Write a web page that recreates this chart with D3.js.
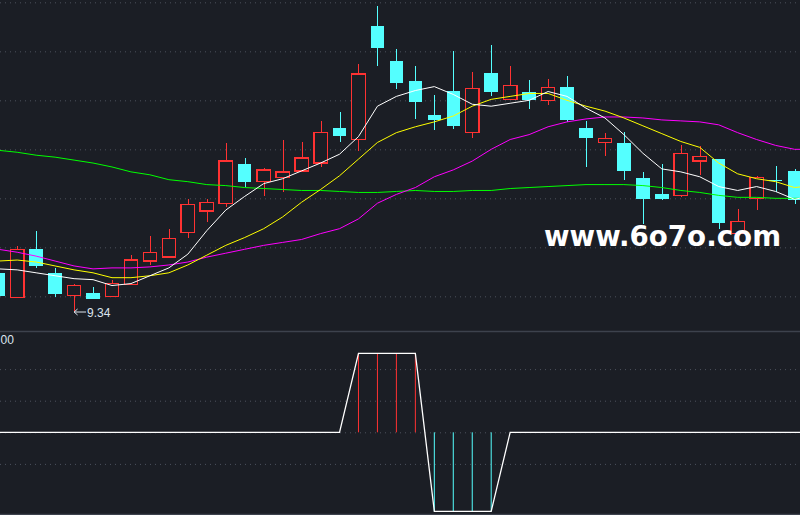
<!DOCTYPE html>
<html lang="zh-CN">
  <head>
    <meta charset="UTF-8" />
    <meta name="viewport" content="width=device-width, initial-scale=1.0" />
    <title>K线图</title>
    <script src="https://d3js.org/d3.v7.min.js"></script>
    <style>
      body {
        margin: 0;
        background-color: #1b1e25;
        font-family: "Liberation Sans", Arial, sans-serif;
      }

      svg {
        display: block;
      }

      .grid line {
        stroke: #4d525d;
        stroke-dasharray: 1, 4;
      }

      .grid path {
        display: none;
      }

      .ma {
        fill: none;
        stroke-width: 1;
      }
    </style>
  </head>
  <body>
    <div id="chart"></div>

    <script>
      // Daily candles (price in yuan)
      const opens = [
        9.74, 9.49, 9.98, 9.74, 9.51, 9.53, 9.5, 9.62, 9.86, 9.9, 10.15, 10.37,
        10.45, 10.85, 10.67, 10.71, 10.78, 10.86, 11.22, 11.1, 12.26, 11.9, 11.7,
        11.35, 11.6, 11.17, 11.78, 11.51, 11.58, 11.5, 11.64, 11.22, 11.07,
        11.06, 10.71, 10.54, 10.53, 10.88, 10.9, 10.14, 10.5, 10.69, 10.78,
      ];
      const highs = [
        9.74, 10.01, 10.17, 9.79, 9.63, 9.6, 9.67, 9.92, 10.12, 10.19, 10.49,
        10.49, 11.06, 10.91, 10.81, 11.1, 11.07, 11.29, 11.38, 11.87, 12.46,
        12.02, 11.85, 11.55, 12.0, 11.79, 12.06, 11.85, 11.71, 11.72, 11.75,
        11.29, 11.17, 11.18, 10.77, 10.85, 11.04, 11.03, 10.9, 10.39, 10.73,
        10.83, 10.8,
      ];
      const lows = [
        9.5, 9.49, 9.79, 9.49, 9.34, 9.47, 9.5, 9.62, 9.82, 9.89, 10.1, 10.26,
        10.41, 10.62, 10.52, 10.56, 10.77, 10.82, 11.07, 10.98, 11.85, 11.62,
        11.31, 11.2, 11.21, 11.12, 11.54, 11.51, 11.41, 11.45, 11.28, 10.82,
        10.93, 10.69, 10.24, 10.48, 10.51, 10.74, 10.19, 10.14, 10.38, 10.56,
        10.44,
      ];
      const closes = [
        9.5, 9.98, 9.81, 9.52, 9.61, 9.47, 9.63, 9.87, 9.95, 10.09, 10.44, 10.46,
        10.88, 10.67, 10.79, 10.77, 10.91, 11.17, 11.14, 11.77, 12.03, 11.68,
        11.48, 11.3, 11.24, 11.62, 11.58, 11.65, 11.5, 11.63, 11.3, 11.12, 11.11,
        10.78, 10.49, 10.49, 10.96, 10.93, 10.25, 10.26, 10.71, 10.69, 10.48,
      ];

      // Moving averages (last value is the next day, just past the right edge)
      const ma5 = [
        9.78, 9.77, 9.74, 9.71, 9.68, 9.67, 9.61, 9.63, 9.71, 9.79, 9.93, 10.17,
        10.38, 10.52, 10.65, 10.7, 10.78, 10.86, 10.95, 11.13, 11.44, 11.54,
        11.6, 11.64, 11.56, 11.46, 11.44, 11.47, 11.5, 11.59, 11.54, 11.42,
        11.32, 11.15, 10.96, 10.8, 10.77, 10.72, 10.62, 10.58, 10.62, 10.57,
        10.49, 10.53,
      ];
      const ma10 = [
        9.86, 9.87, 9.85, 9.81, 9.77, 9.74, 9.69, 9.69, 9.71, 9.74, 9.82, 9.92,
        10.02, 10.1, 10.19, 10.31, 10.46, 10.59, 10.73, 10.9, 11.07, 11.17,
        11.23, 11.28, 11.34, 11.44, 11.51, 11.54, 11.57, 11.57, 11.5, 11.44,
        11.39, 11.32, 11.24, 11.16, 11.08, 11.02, 10.86, 10.75, 10.7, 10.67,
        10.61, 10.63,
      ];
      const ma30 = [
        9.98, 9.95, 9.91, 9.86, 9.81, 9.78, 9.79, 9.79, 9.8, 9.82, 9.85, 9.9,
        9.94, 9.98, 10.02, 10.05, 10.08, 10.14, 10.19, 10.29, 10.45, 10.54,
        10.61, 10.72, 10.79, 10.88, 11.0, 11.1, 11.15, 11.23, 11.28, 11.31,
        11.33, 11.33, 11.32, 11.3, 11.29, 11.28, 11.25, 11.17, 11.1, 11.04, 11.0,
        11.0,
      ];
      const ma120 = [
        10.99, 10.97, 10.94, 10.92, 10.89, 10.86, 10.82, 10.77, 10.74, 10.69,
        10.67, 10.64, 10.63, 10.61, 10.6, 10.59, 10.58, 10.58, 10.57, 10.56,
        10.56, 10.57, 10.58, 10.57, 10.57, 10.58, 10.58, 10.6, 10.61, 10.62,
        10.63, 10.64, 10.64, 10.64, 10.63, 10.61, 10.58, 10.56, 10.53, 10.51,
        10.51, 10.5, 10.5, 10.5,
      ];

      // Lower panel signal (+100 buy zone, -100 sell zone)
      const signal = [
        0, 0, 0, 0, 0, 0, 0, 0, 0, 0, 0, 0, 0, 0, 0, 0, 0, 0, 0, 100, 100, 100,
        100, -100, -100, -100, -100, 0, 0, 0, 0, 0, 0, 0, 0, 0, 0, 0, 0, 0, 0, 0,
        0, 0,
      ];

      // Gridline levels and texts
      const priceTicks = [9.5, 10, 10.5, 11, 11.5, 12, 12.5];
      const signalTicks = [80, 40, 0, -40];
      const signalLabel = "00";
      const watermark = "www.6o7o.com";

      const width = 800,
        height = 515;
      const upColor = "#ff3232",
        downColor = "#54ffff",
        bgColor = "#1b1e25";

      const svg = d3
        .select("#chart")
        .append("svg")
        .attr("width", width)
        .attr("height", height);

      const days = d3.range(opens.length);
      const lineDays = d3.range(ma5.length);

      // X: one band per trading day, the first one half cut off on the left
      const x = d3
        .scaleBand()
        .domain(lineDays)
        .range([-11.24, 823.0])
        .paddingInner(0.24)
        .paddingOuter(0.12);
      const cx = (i) => x(i) + x.bandwidth() / 2;

      // Main price panel
      const y = d3.scaleLinear().domain([9.34, 12.5]).range([312, 2.32]);

      // Indicator panel
      const ys = d3.scaleLinear().domain([-100, 100]).range([511.3, 353.3]);

      // Gridlines
      svg
        .append("g")
        .attr("class", "grid")
        .call(d3.axisLeft(y).tickValues(priceTicks).tickSize(-width).tickFormat(""));

      svg
        .append("g")
        .attr("class", "grid")
        .call(d3.axisLeft(ys).tickValues(signalTicks).tickSize(-width).tickFormat(""));

      // Panel borders
      svg
        .append("line")
        .attr("x1", 0)
        .attr("x2", width)
        .attr("y1", 331.5)
        .attr("y2", 331.5)
        .attr("stroke", "#3d424d")
        .attr("stroke-width", 1.5);

      svg
        .append("line")
        .attr("x1", 0)
        .attr("x2", width)
        .attr("y1", 514.5)
        .attr("y2", 514.5)
        .attr("stroke", "#3d424d")
        .attr("stroke-width", 1.5);

      // Candles
      const candle = svg
        .append("g")
        .selectAll("g")
        .data(days)
        .join("g")
        .attr("shape-rendering", "crispEdges");

      candle
        .append("line")
        .attr("x1", (i) => Math.round(cx(i)) + 0.5)
        .attr("x2", (i) => Math.round(cx(i)) + 0.5)
        .attr("y1", (i) => y(highs[i]))
        .attr("y2", (i) => y(lows[i]))
        .attr("stroke", (i) => (closes[i] > opens[i] ? upColor : downColor));

      candle
        .append("rect")
        .attr("x", (i) => x(i) + 0.5)
        .attr("width", x.bandwidth() - 1)
        .attr("y", (i) => y(Math.max(opens[i], closes[i])))
        .attr("height", (i) =>
          Math.max(1, Math.abs(y(opens[i]) - y(closes[i])))
        )
        .attr("fill", (i) => (closes[i] > opens[i] ? bgColor : downColor))
        .attr("stroke", (i) => (closes[i] > opens[i] ? upColor : downColor))
        .attr("stroke-width", (i) => (closes[i] > opens[i] ? 1.3 : 0));

      // Moving average lines
      const maLine = (arr) =>
        d3
          .line()
          .x((i) => cx(i))
          .y((i) => y(arr[i]));

      [
        [ma120, "#00ff00"],
        [ma30, "#ff00ff"],
        [ma10, "#ffff00"],
        [ma5, "#ffffff"],
      ].forEach(([arr, color]) => {
        svg
          .append("path")
          .datum(lineDays)
          .attr("class", "ma")
          .attr("stroke", color)
          .attr("d", maLine(arr));
      });

      // Lowest price marker
      const lowIdx = d3.minIndex(lows);
      const lx = cx(lowIdx),
        ly = y(lows[lowIdx]);
      const marker = svg.append("g").attr("stroke", "#dde4ee").attr("fill", "none");
      marker
        .append("line")
        .attr("x1", lx)
        .attr("x2", lx + 12)
        .attr("y1", ly)
        .attr("y2", ly);
      marker
        .append("path")
        .attr("d", `M${lx + 3.5},${ly - 3}L${lx},${ly}L${lx + 3.5},${ly + 3}`);
      svg
        .append("text")
        .attr("x", lx + 13)
        .attr("y", ly + 4.5)
        .attr("fill", "#dde4ee")
        .style("font-size", "12px")
        .text(lows[lowIdx].toFixed(2));

      // Signal bars
      svg
        .append("g")
        .selectAll("line")
        .data(lineDays.filter((i) => signal[i] !== 0))
        .join("line")
        .attr("x1", (i) => cx(i))
        .attr("x2", (i) => cx(i))
        .attr("y1", ys(0))
        .attr("y2", (i) => ys(signal[i]))
        .attr("stroke", (i) => (signal[i] > 0 ? upColor : downColor))
        .attr("stroke-width", 1);

      // Signal line
      svg
        .append("path")
        .datum(lineDays)
        .attr("fill", "none")
        .attr("stroke", "#ffffff")
        .attr("stroke-width", 1.3)
        .attr(
          "d",
          d3
            .line()
            .x((i) => cx(i))
            .y((i) => ys(signal[i]))
        );

      // Panel value label at the left edge
      svg
        .append("text")
        .attr("x", 0.5)
        .attr("y", 344)
        .attr("fill", "#dde4ee")
        .style("font-size", "12px")
        .text(signalLabel);

      // Watermark
      svg
        .append("text")
        .attr("x", 544)
        .attr("y", 246)
        .attr("fill", "#ffffff")
        .attr("textLength", 237)
        .attr("lengthAdjust", "spacingAndGlyphs")
        .style("font-family", "'DejaVu Sans', sans-serif")
        .style("font-weight", "bold")
        .style("font-size", "28px")
        .text(watermark);
    </script>
  </body>
</html>
